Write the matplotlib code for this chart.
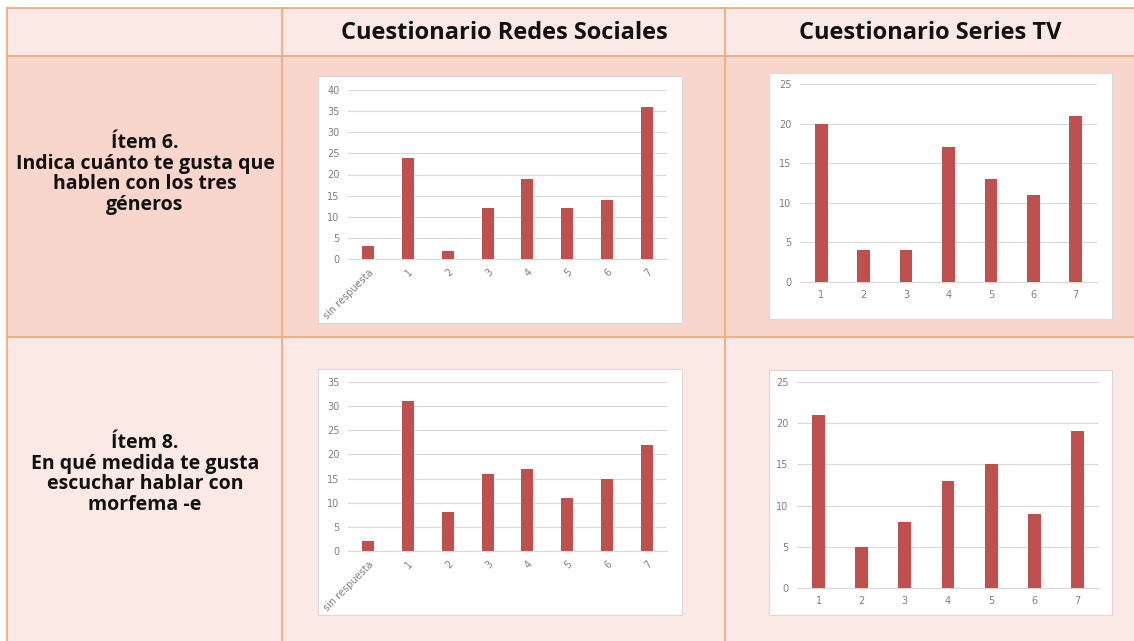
import matplotlib
matplotlib.use("Agg")
import matplotlib.pyplot as plt
from matplotlib.patches import Rectangle

# ---------------- data ----------------
cats_redes = ["sin respuesta", "1", "2", "3", "4", "5", "6", "7"]
cats_series = ["1", "2", "3", "4", "5", "6", "7"]

item6_redes = [3, 24, 2, 12, 19, 12, 14, 36]
item6_series = [20, 4, 4, 17, 13, 11, 21]
item8_redes = [2, 31, 8, 16, 17, 11, 15, 22]
item8_series = [21, 5, 8, 13, 15, 9, 19]

col_headers = ["Cuestionario Redes Sociales", "Cuestionario Series TV"]
row_labels = ["Ítem 6.\nIndica cuánto te gusta que\nhablen con los tres\ngéneros",
              "Ítem 8.\nEn qué medida te gusta\nescuchar hablar con\nmorfema -e"]

W, H = 1134, 641
fig = plt.figure(figsize=(W / 100, H / 100), dpi=100)
fig.patch.set_facecolor("white")

# background axes in pixel coordinates
bg = fig.add_axes([0, 0, 1, 1])
bg.set_xlim(0, W)
bg.set_ylim(H, 0)
bg.axis("off")

light = "#FBE9E5"
dark = "#F8D6CC"
border = "#F0A878"

bg.add_patch(Rectangle((7, 8), W - 7, 48, facecolor=light, edgecolor="none"))
bg.add_patch(Rectangle((7, 56), W - 7, 281, facecolor=dark, edgecolor="none"))
bg.add_patch(Rectangle((7, 337), W - 7, H - 337, facecolor=light, edgecolor="none"))

for y in (8, 56, 337):
    bg.plot([7, W], [y, y], color=border, lw=1.2)
for x in (7, 282, 725):
    bg.plot([x, x], [8, H], color=border, lw=1.2)

# chart boxes
for (x0, y0, x1, y1) in [(318, 76, 682, 323), (769, 73, 1112, 319),
                         (318, 369, 682, 615), (769, 370, 1112, 615)]:
    bg.add_patch(Rectangle((x0, y0), x1 - x0, y1 - y0, facecolor="white",
                           edgecolor="#D9D9D9", lw=0.8))

font = "Open Sans"
bg.text(504, 33, col_headers[0], ha="center", va="center", fontsize=17,
        fontweight="bold", family=font, color="#111111")
bg.text(930, 33, col_headers[1], ha="center", va="center", fontsize=17,
        fontweight="bold", family=font, color="#111111")
bg.text(145, 174, row_labels[0], ha="center", va="center", fontsize=14,
        fontweight="bold", family=font, color="#111111", linespacing=1.05)
bg.text(145, 474, row_labels[1], ha="center", va="center", fontsize=14,
        fontweight="bold", family=font, color="#111111", linespacing=1.05)


def chart(px0, py_top, px1, py_bot, cats, vals, ymax, rotate):
    ax = fig.add_axes([px0 / W, (H - py_bot) / H, (px1 - px0) / W, (py_bot - py_top) / H])
    ax.set_facecolor("none")
    x = list(range(len(cats)))
    ax.bar(x, vals, width=0.3, color="#C0504D", zorder=3)
    ax.set_xlim(-0.5, len(cats) - 0.5)
    ax.set_ylim(0, ymax)
    ax.set_yticks(range(0, ymax + 1, 5))
    ax.grid(axis="y", color="#D9D9D9", lw=0.8, zorder=0)
    for s in ("left", "right", "top"):
        ax.spines[s].set_visible(False)
    ax.spines["bottom"].set_color("#D9D9D9")
    ax.tick_params(length=0, labelsize=7, labelcolor="#7F7F7F", pad=6)
    ax.set_xticks(x)
    if rotate:
        ax.set_xticklabels(cats, rotation=45, ha="right", rotation_mode="anchor")
    else:
        ax.set_xticklabels(cats)
    return ax


chart(348, 90, 667, 259, cats_redes, item6_redes, 40, True)
chart(800, 84, 1097, 282, cats_series, item6_series, 25, False)
chart(348, 382, 667, 551, cats_redes, item8_redes, 35, True)
chart(797, 382, 1099, 588, cats_series, item8_series, 25, False)

fig.savefig("out.png", dpi=100)
